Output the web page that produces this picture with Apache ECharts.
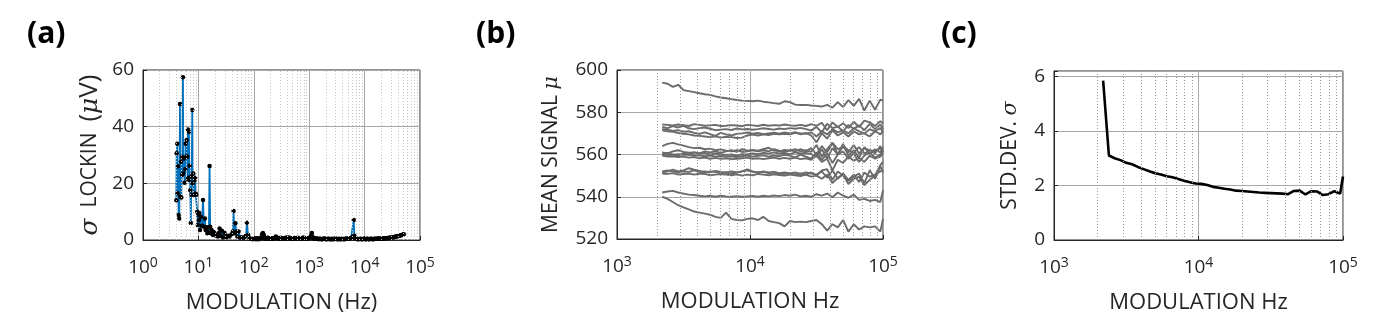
<!DOCTYPE html>
<html><head><meta charset="utf-8">
<script src="https://cdn.jsdelivr.net/npm/echarts@6/dist/echarts.min.js"></script>
<style>html,body{margin:0;padding:0;background:#fff}#c{width:1379px;height:320px}</style>
</head><body><div id="c"></div>
<script>
// ---------- Panel (a): sigma lock-in (uV) vs modulation frequency (Hz), [freq, sigma] ----------
const sigmaLowA = [[3.99,14.0],[4.05,30.6],[4.16,34.0],[4.22,16.5],[4.28,26.0],[4.40,8.8],[4.52,7.6],[4.65,48.0],[4.72,15.3],[4.85,27.6],[4.91,15.0],[5.05,29.4],[5.12,23.0],[5.26,57.4],[5.34,23.5],[5.48,28.8],[5.64,20.2],[5.80,25.0],[5.88,34.0],[6.05,29.5],[6.13,35.3],[6.30,29.4],[6.40,21.5],[6.48,39.0],[6.60,22.0],[6.75,38.2],[6.85,21.2],[6.94,26.2],[7.13,17.6],[7.30,6.0],[7.44,22.4],[7.54,16.0],[7.75,45.9],[7.90,20.0],[8.08,23.5],[8.30,15.9],[8.54,21.2],[8.75,22.0],[8.91,16.5],[9.15,16.0],[9.54,10.0],[9.75,5.3],[9.95,8.8],[10.2,7.0],[10.4,9.5],[10.7,3.5],[11.1,8.2],[11.6,5.0],[12.1,14.1],[12.6,4.7],[13.1,7.6],[13.5,3.5],[14.1,4.5],[14.5,2.4],[14.9,3.0],[15.5,4.5],[15.9,26.1],[16.3,4.7],[16.8,2.4],[17.3,3.5],[18.3,1.8],[19.0,2.8],[19.6,2.4],[21.0,1.5],[22.5,1.2],[23.4,2.5],[24.1,4.1],[25.0,1.5],[26.5,3.3],[27.7,0.9],[29.7,2.5],[31.8,1.0],[34.1,1.5],[36.5,1.2],[39.7,2.0],[42.0,3.0],[43.1,10.2],[44.5,2.4],[46.5,5.9],[48.0,2.9],[50.5,1.2],[53.0,3.0],[56.9,0.8],[60.0,1.0],[63.5,0.7],[68.0,1.0],[72.0,1.5],[75.0,6.1],[79.3,1.8],[84.0,0.6],[89.8,0.5],[96.0,0.3]];
const sigmaHighA = [[103,0.4],[107,0.5],[110,0.3],[114,0.6],[118,0.5],[122,0.3],[126,0.4],[131,0.7],[136,0.6],[141,2.0],[146,2.5],[152,1.8],[156,0.9],[160,0.6],[166,0.4],[172,0.5],[178,0.8],[185,0.7],[192,0.5],[200,0.4],[207,0.6],[215,0.6],[223,0.4],[232,0.5],[241,0.8],[250,1.2],[260,0.9],[270,0.6],[280,0.4],[290,0.5],[302,0.8],[315,0.7],[327,0.5],[340,0.4],[355,0.6],[370,0.6],[385,0.9],[400,0.5],[415,0.7],[430,0.9],[447,0.6],[465,0.6],[482,0.4],[500,0.4],[520,0.6],[540,0.7],[562,0.5],[585,0.5],[607,0.7],[630,0.8],[655,0.6],[680,0.6],[707,0.4],[735,0.5],[762,0.7],[790,0.9],[820,0.6],[850,0.6],[885,0.5],[920,0.5],[955,0.6],[990,0.7],[1025,0.8],[1060,1.0],[1085,1.5],[1114,2.5],[1145,1.2],[1180,0.6],[1225,0.5],[1270,0.4],[1320,0.5],[1370,0.5],[1425,0.4],[1480,0.3],[1540,0.4],[1600,0.4],[1665,0.3],[1730,0.3],[1800,0.4],[1870,0.5],[1945,0.4],[2020,0.3],[2100,0.3],[2180,0.4],[2265,0.4],[2350,0.3],[2445,0.3],[2540,0.4],[2640,0.3],[2740,0.3],[2850,0.4],[2960,0.5],[3080,0.4],[3200,0.3],[3325,0.3],[3450,0.4],[3590,0.3],[3730,0.3],[3880,0.4],[4030,0.4],[4190,0.3],[4350,0.3],[4525,0.4],[4700,0.5],[4885,0.4],[5070,0.4],[5270,0.5],[5480,0.6],[5690,0.7],[5900,0.8],[6130,1.2],[6370,7.1],[6530,1.5],[6700,0.7],[6950,0.5],[7200,0.4],[7500,0.3],[7800,0.3],[8100,0.4],[8400,0.4],[8750,0.3],[9100,0.3],[9450,0.4],[9800,0.4],[10200,0.3],[10600,0.3],[11000,0.4],[11400,0.4],[11850,0.3],[12300,0.3],[12800,0.4],[13300,0.4],[13850,0.3],[14400,0.3],[14950,0.4],[15500,0.4],[16150,0.4],[16800,0.4],[17450,0.5],[18100,0.5],[18850,0.4],[19600,0.4],[20350,0.5],[21100,0.5],[21950,0.6],[22800,0.6],[23700,0.6],[24600,0.6],[25600,0.7],[26600,0.7],[27650,0.8],[28700,0.8],[29850,0.9],[31000,0.9],[32250,1.0],[33500,1.0],[34850,1.1],[36200,1.2],[37650,1.2],[39100,1.3],[40650,1.4],[42200,1.5],[43900,1.6],[45600,1.7],[47400,1.8],[49200,1.9],[51000,2.0]];

// ---------- Panel (b) & (c): shared frequency grid (Hz) ----------
const freqBC = [2188,2399,2630,2884,3162,3467,3802,4169,4571,5012,5495,6026,6607,7244,7943,8710,9550,10471,11482,12589,13804,15136,16596,18197,19953,21878,23988,26303,28840,31623,34674,38019,41687,45709,50119,54954,60256,66069,72444,79433,87096,95499,100000];

const mean01 = [594.0,593.5,592.0,593.0,590.5,590.0,589.5,589.0,588.5,588.2,587.5,587.0,586.6,586.2,585.8,585.5,585.4,585.2,585.5,585.0,584.7,584.3,584.0,585.2,584.8,583.6,583.4,583.5,583.2,583.0,582.7,583.5,582.2,584.8,582.5,585.7,583.0,586.3,580.8,585.5,581.2,586.0,585.5];
const mean02 = [574.2,574.0,573.8,574.2,573.9,573.5,574.4,574.0,573.6,573.8,574.0,573.5,573.6,573.9,573.7,573.4,574.0,573.8,573.5,574.1,573.6,573.9,573.7,574.2,573.8,573.6,574.0,573.5,574.4,573.6,575.0,571.5,575.2,573.0,574.8,572.5,575.5,573.0,576.0,575.2,573.5,575.8,574.5];
const mean03 = [573.0,572.5,573.4,572.8,573.6,572.4,572.0,572.5,572.8,572.2,571.5,571.8,572.0,571.6,572.3,571.9,572.1,571.7,572.0,572.4,572.1,571.8,572.3,572.0,572.5,572.2,572.6,572.0,571.4,573.0,570.5,574.5,572.5,573.2,571.0,574.0,572.2,573.8,571.5,574.5,572.0,574.2,572.0];
const mean04 = [572.0,571.8,571.2,571.5,570.8,571.0,570.2,569.8,570.5,569.6,568.8,570.2,569.5,569.0,569.8,570.0,570.4,569.8,570.2,569.6,570.0,570.3,569.8,570.4,570.0,570.6,569.5,570.2,569.0,565.8,570.0,567.5,571.5,569.0,570.5,568.5,571.0,569.5,570.0,568.5,571.0,569.5,571.0];
const mean05 = [571.5,571.0,570.8,570.2,569.8,569.5,569.0,568.8,568.5,568.2,568.6,568.0,568.4,568.2,567.8,568.0,569.0,569.4,569.0,569.5,569.2,569.8,569.5,569.8,569.5,570.2,570.0,569.8,570.5,568.5,571.0,569.5,572.0,570.5,571.5,570.0,572.5,571.0,570.0,572.0,571.0,572.5,570.5];
const mean06 = [564.0,565.0,565.5,564.8,564.2,563.5,563.0,563.2,562.5,562.8,562.0,562.4,561.8,561.5,562.0,561.2,561.5,562.0,561.8,562.5,563.2,562.0,561.5,562.2,561.8,562.5,561.5,562.0,561.2,564.5,559.0,562.5,565.5,560.0,564.0,562.0,561.0,563.5,560.5,562.0,561.5,563.0,561.5];
const mean07 = [561.0,560.5,561.5,562.0,561.2,560.8,561.0,560.5,560.8,560.0,560.5,560.2,559.8,560.0,559.5,560.2,560.0,560.5,560.2,560.8,560.4,561.0,560.5,560.8,560.2,561.0,560.5,560.8,560.2,559.0,562.5,558.0,563.0,560.0,565.0,559.5,562.0,558.5,563.5,560.5,562.5,561.0,563.5];
const mean08 = [560.0,560.8,559.8,560.2,559.8,560.0,559.5,559.6,559.2,559.5,559.0,559.4,559.0,559.2,558.8,559.2,559.5,559.0,559.4,559.6,559.0,559.5,559.2,559.8,559.5,558.5,560.0,559.0,558.0,561.0,557.5,560.5,556.0,560.0,561.5,558.0,560.5,556.5,559.5,561.0,558.5,560.0,562.0];
const mean09 = [559.5,559.0,559.2,558.8,559.0,558.5,558.8,558.2,558.5,558.0,558.4,558.0,558.2,557.8,558.0,558.2,558.5,558.0,558.2,557.8,558.2,558.5,558.0,558.4,558.0,558.5,557.8,558.2,557.5,559.5,556.5,558.0,552.5,557.5,556.0,559.0,557.0,558.5,556.5,559.5,558.0,559.0,560.5];
const mean10 = [560.5,559.5,560.0,559.5,560.5,560.0,561.0,560.5,561.5,561.0,561.5,560.8,561.5,562.0,561.2,562.5,561.8,562.2,561.5,562.0,561.5,562.5,561.8,561.2,562.0,561.5,562.5,561.5,563.0,560.0,564.0,561.0,565.5,562.5,563.5,561.0,564.5,560.5,563.0,562.0,560.5,564.0,561.0];
const mean11 = [552.0,552.5,552.0,551.5,552.0,551.8,552.5,551.8,552.0,551.5,552.2,551.8,551.5,552.0,551.5,552.0,552.5,551.8,551.5,552.0,551.5,551.8,551.2,551.5,551.0,551.5,550.8,551.5,551.0,550.5,552.0,549.0,552.5,548.5,551.0,548.0,550.5,547.0,551.5,549.5,550.5,552.0,553.0];
const mean12 = [551.5,552.0,552.8,552.0,552.5,553.5,552.8,552.2,551.5,552.0,551.8,551.2,551.5,551.0,551.5,552.0,553.0,552.0,551.5,551.8,551.2,551.5,551.0,550.8,551.2,550.5,551.0,550.5,551.5,550.0,552.5,553.0,548.0,552.0,550.0,547.5,549.5,551.0,546.5,552.5,548.5,554.5,551.5];
const mean13 = [551.0,550.8,551.2,550.5,550.8,551.0,550.5,551.0,550.8,550.2,550.5,550.8,550.5,550.2,550.6,550.0,550.5,550.2,550.8,550.5,550.2,550.6,550.3,550.0,550.5,550.2,549.8,550.5,549.5,550.0,548.5,550.5,546.5,549.0,550.5,546.0,548.5,549.5,545.5,548.0,550.0,555.0,556.5];
const mean14 = [542.0,542.5,542.8,542.0,541.5,541.0,540.8,540.5,540.2,540.5,540.0,540.5,540.2,540.0,540.3,540.0,540.2,540.4,540.0,540.5,540.2,540.6,540.3,540.8,540.5,541.0,540.2,540.5,540.0,541.2,540.5,541.5,539.8,542.0,540.5,539.5,541.0,538.5,539.0,538.0,538.5,537.5,543.0];
const mean15 = [540.0,539.0,537.5,536.0,535.0,534.0,533.0,532.5,532.0,531.5,530.5,530.0,532.5,529.5,529.0,528.8,529.5,529.8,529.0,530.5,528.5,528.0,527.5,526.0,528.5,528.0,528.2,528.0,528.5,529.0,527.0,524.0,527.0,525.5,529.0,523.5,527.0,524.5,526.0,525.5,526.0,523.5,529.5];
const meanLines = [mean01,mean02,mean03,mean04,mean05,mean06,mean07,mean08,mean09,mean10,mean11,mean12,mean13,mean14,mean15];

const stdC = [5.85,3.10,3.00,2.93,2.83,2.78,2.68,2.60,2.52,2.45,2.40,2.34,2.30,2.24,2.17,2.12,2.07,2.06,2.02,1.95,1.92,1.88,1.85,1.81,1.80,1.78,1.76,1.74,1.73,1.72,1.71,1.70,1.68,1.80,1.81,1.67,1.79,1.78,1.65,1.68,1.79,1.70,2.33];

// ---------- tick labels ----------
const yTicksA = [0, 20, 40, 60];
const yTicksB = [520, 540, 560, 580, 600];
const yTicksC = [0, 2, 4, 6];
const minorA = [], minorBC = [];
for (let k = 0; k <= 4; k++) for (let m = 2; m <= 9; m++) minorA.push(m * Math.pow(10, k));
for (let k = 3; k <= 4; k++) for (let m = 2; m <= 9; m++) minorBC.push(m * Math.pow(10, k));

const FONT = 'Open Sans';
const TXT = '#262626';

function xAxisCfg(gi, min, max, name) {
  return {
    type: 'log', logBase: 10, gridIndex: gi, min: min, max: max,
    splitNumber: Math.round(Math.log10(max / min)),
    name: name, nameLocation: 'middle', nameGap: 52,
    nameTextStyle: { fontFamily: FONT, fontSize: 22, color: TXT },
    axisLine: { show: true, lineStyle: { color: TXT, width: 1 } },
    axisTick: { show: true, inside: true, length: 4, lineStyle: { color: TXT } },
    splitLine: { show: true, lineStyle: { color: '#a8a8a8', width: 1 } },
    axisLabel: {
      margin: 16, color: TXT,
      formatter: function (v) { return '{b|10}{s|' + Math.round(Math.log10(v)) + '}'; },
      rich: {
        b: { fontFamily: FONT, fontSize: 19, color: TXT },
        s: { fontFamily: FONT, fontSize: 14, color: TXT, verticalAlign: 'bottom', padding: [0, 0, 10, 0] }
      }
    }
  };
}
function yAxisCfg(gi, min, max, interval, name, gap, ticks) {
  return {
    type: 'value', gridIndex: gi, min: min, max: max, interval: interval,
    name: name, nameLocation: 'middle', nameGap: gap,
    nameTextStyle: { fontFamily: FONT, fontSize: 21, color: TXT,
      rich: {
        i: { fontFamily: 'DejaVu Serif', fontStyle: 'italic', fontSize: 21, color: TXT },
        I: { fontFamily: 'DejaVu Serif', fontStyle: 'italic', fontSize: 25, color: TXT },
        p: { fontFamily: FONT, fontSize: 26, color: TXT }
      } },
    axisLine: { show: true, lineStyle: { color: TXT, width: 1 } },
    axisTick: { show: true, inside: true, length: 4, lineStyle: { color: TXT } },
    splitLine: { show: true, lineStyle: { color: '#a8a8a8', width: 1 } },
    axisLabel: { margin: 9, fontFamily: FONT, fontSize: 19, color: TXT, showMaxLabel: true,
      formatter: function (v) { return ticks.indexOf(v) >= 0 ? String(v) : ''; } }
  };
}
function minorSeries(xi, list, y0, color) {
  return {
    type: 'line', xAxisIndex: xi, yAxisIndex: xi, data: [[list[0], y0]],
    symbol: 'none', lineStyle: { opacity: 0 }, silent: true, z: 1,
    markLine: {
      silent: true, symbol: ['none', 'none'], label: { show: false },
      lineStyle: { type: [1, 2], color: color, width: 1 },
      emphasis: { disabled: true },
      data: list.map(function (v) { return { xAxis: v }; })
    }
  };
}

const series = [];
series.push(minorSeries(0, minorA, 0, '#c4c4c4'));
series.push(minorSeries(1, minorBC, 520, '#9a9a9a'));
series.push(minorSeries(2, minorBC, 0, '#9a9a9a'));
series.push({
  type: 'line', xAxisIndex: 0, yAxisIndex: 0, z: 3,
  data: sigmaLowA.concat(sigmaHighA),
  symbol: 'circle', symbolSize: 4.5, showSymbol: true,
  itemStyle: { color: '#000' },
  lineStyle: { color: '#0072BD', width: 1.8 }
});
meanLines.forEach(function (arr) {
  series.push({
    type: 'line', xAxisIndex: 1, yAxisIndex: 1, z: 3,
    data: freqBC.map(function (f, i) { return [f, arr[i]]; }),
    showSymbol: false, symbol: 'none',
    lineStyle: { color: '#6b6b6b', width: 1.9 }
  });
});
series.push({
  type: 'line', xAxisIndex: 2, yAxisIndex: 2, z: 3,
  data: freqBC.map(function (f, i) { return [f, stdC[i]]; }),
  showSymbol: false, symbol: 'none',
  lineStyle: { color: '#000', width: 2.6 }
});

const titleStyle = { fontFamily: FONT, fontSize: 30, fontWeight: 'bold', color: '#000' };
const option = {
  animation: false,
  backgroundColor: '#fff',
  title: [
    { text: '(a)', left: 22, top: 14, textStyle: titleStyle },
    { text: '(b)', left: 471, top: 14, textStyle: titleStyle },
    { text: '(c)', left: 936, top: 14, textStyle: titleStyle }
  ],
  grid: [
    { left: 143, top: 70, width: 277, height: 170, show: true, borderColor: TXT, borderWidth: 1, backgroundColor: 'transparent' },
    { left: 617, top: 70, width: 266, height: 169, show: true, borderColor: TXT, borderWidth: 1, backgroundColor: 'transparent' },
    { left: 1054, top: 71, width: 289, height: 169, show: true, borderColor: TXT, borderWidth: 1, backgroundColor: 'transparent' }
  ],
  xAxis: [
    xAxisCfg(0, 1, 100000, 'MODULATION (Hz)'),
    xAxisCfg(1, 1000, 100000, 'MODULATION Hz'),
    xAxisCfg(2, 1000, 100000, 'MODULATION Hz')
  ],
  yAxis: [
    yAxisCfg(0, 0, 60, 20, '{I|σ}  LOCKIN  {p|(}{I|μ}{p|V)}', 40, yTicksA),
    yAxisCfg(1, 520, 600, 20, 'MEAN SIGNAL {i|μ}', 55, yTicksB),
    yAxisCfg(2, 0, 6.2, 2, 'STD.DEV. {i|σ}', 33, yTicksC)
  ],
  series: series
};
const chart = echarts.init(document.getElementById('c'), null, { renderer: 'canvas' });
chart.setOption(option);
</script></body></html>
